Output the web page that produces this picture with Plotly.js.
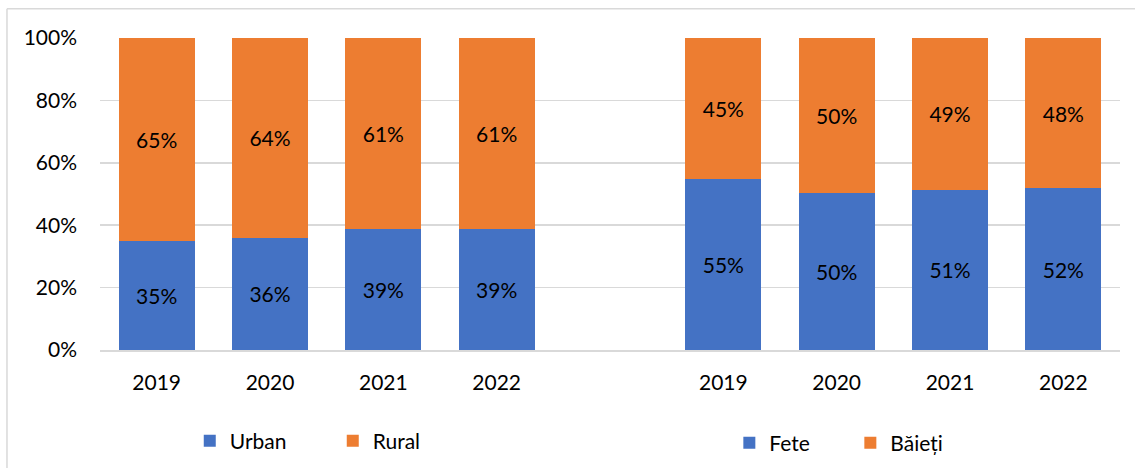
<!DOCTYPE html>
<html>
<head>
<meta charset="utf-8">
<script src="https://cdn.plot.ly/plotly-3.0.1.min.js"></script>
<style>html,body{margin:0;padding:0;background:#fff;}#chart{width:1135px;height:468px;}</style>
</head>
<body>
<div id="chart"></div>
<script>
// Data
const years = ["2019", "2020", "2021", "2022"];
const urban = [34.9, 35.9, 38.8, 38.8];
const rural = [65.1, 64.1, 61.2, 61.2];
const fete = [54.8, 50.4, 51.4, 51.8];
const baieti = [45.2, 49.6, 48.6, 48.2];
const yTicks = [0, 20, 40, 60, 80, 100];
const yTickText = yTicks.map(v => v + "%");

const blue = "#4472C4", orange = "#ED7D31";
const FONT = "Lato, 'Noto Sans', sans-serif";

// positions: first group, then one empty slot, then second group
const pos1 = years.map((_, i) => i);
const pos2 = years.map((_, i) => i + years.length + 1);

function tr(name, x, y, color, legend) {
  return {
    type: "bar", name: name, x: x, y: y,
    marker: {color: color},
    texttemplate: "%{y:.0f}%", textposition: "inside", insidetextanchor: "middle",
    textfont: {family: FONT, size: 21, color: "#000"},
    hoverinfo: "skip", legend: legend
  };
}

const data = [
  tr("Urban", pos1, urban, blue, "legend"),
  tr("Rural", pos1, rural, orange, "legend"),
  tr("Fete", pos2, fete, blue, "legend2"),
  tr("Băieți", pos2, baieti, orange, "legend2")
];

const layout = {
  width: 1135, height: 468,
  margin: {l: 100, r: 15, t: 38, b: 118},
  paper_bgcolor: "#fff", plot_bgcolor: "#fff",
  barmode: "stack", bargap: 0.33,
  font: {family: FONT, size: 21, color: "#000"},
  xaxis: {
    range: [-0.5, 8.5],
    tickvals: pos1.concat(pos2),
    ticktext: years.concat(years),
    showgrid: false, zeroline: false,
    showline: true, linecolor: "#d9d9d9", linewidth: 1.5,
    ticks: "", ticklabelstandoff: 13,
    tickfont: {family: FONT, size: 21, color: "#000"},
    automargin: false,
    fixedrange: true
  },
  yaxis: {
    range: [0, 100],
    tickvals: yTicks,
    ticktext: yTickText,
    showgrid: true, gridcolor: "#d9d9d9", gridwidth: 1.5,
    zeroline: false, showline: false,
    ticks: "", ticklabelstandoff: 22,
    tickfont: {family: FONT, size: 21, color: "#000"},
    automargin: false,
    fixedrange: true
  },
  showlegend: true,
  legend: {
    orientation: "h", x: 0.088, xanchor: "left",
    yref: "container", y: 1 - 441 / 468, yanchor: "middle",
    font: {family: FONT, size: 21, color: "#000"},
    itemwidth: 30,
    entrywidth: 98, entrywidthmode: "pixels", traceorder: "normal",
    bgcolor: "rgba(0,0,0,0)"
  },
  legend2: {
    orientation: "h", x: 0.617, xanchor: "left",
    yref: "container", y: 1 - 443 / 468, yanchor: "middle",
    font: {family: FONT, size: 21, color: "#000"},
    itemwidth: 30,
    entrywidth: 76, entrywidthmode: "pixels", traceorder: "normal",
    bgcolor: "rgba(0,0,0,0)"
  },
  shapes: [
    {type: "line", xref: "paper", yref: "paper", x0: -0.0912, x1: 1.02, y0: 1.094, y1: 1.094,
     line: {color: "#d9d9d9", width: 1.5}},
    {type: "line", xref: "paper", yref: "paper", x0: -0.0912, x1: -0.0912, y0: 1.094, y1: -0.4,
     line: {color: "#d9d9d9", width: 1.5}}
  ]
};

Plotly.newPlot("chart", data, layout, {displayModeBar: false, staticPlot: true});
</script>
</body>
</html>
